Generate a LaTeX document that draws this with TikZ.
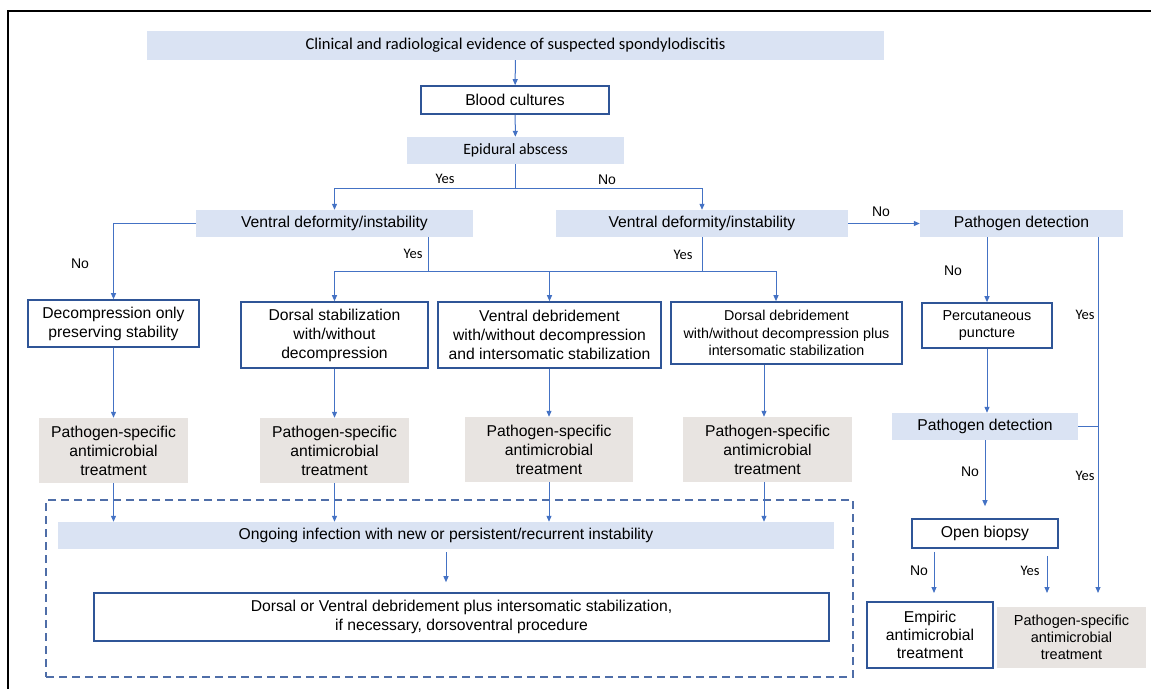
\documentclass[tikz,border=0pt]{standalone}
\usepackage{fontspec}
\setmainfont{Liberation Sans}
\newfontfamily\calfont{Carlito}
\usetikzlibrary{shapes.misc, positioning}
\usetikzlibrary{shapes.geometric, arrows, arrows.meta}
\definecolor{lightblue}{HTML}{DAE3F3}
\definecolor{lightgrey}{HTML}{E8E4E1}
\definecolor{darkblue}{HTML}{2F5597}
\definecolor{linkblue}{HTML}{4472C4}
\definecolor{dashblue}{HTML}{4F6EA8}
\tikzstyle{txt} = [font=\fontsize{15.7}{19}\selectfont]
\tikzstyle{question} = [rectangle, fill=lightblue, inner sep=0pt, text centered, align=center, txt]
\tikzstyle{process} = [rectangle, draw=darkblue, line width=1.6pt, fill=white, inner sep=0pt, text centered, align=center, txt]
\tikzstyle{therapy} = [rectangle, fill=lightgrey, inner sep=0pt, text centered, align=center, txt]
\tikzstyle{link} = [linkblue, line width=1pt]
\tikzstyle{arrow} = [link, -{Triangle[length=6pt,width=5pt]}]
\tikzstyle{no} = [inner sep=0pt, font=\fontsize{14}{16}\selectfont]
\tikzstyle{yes} = [inner sep=0pt, font=\calfont\fontsize{14.5}{16}\selectfont]

\begin{document}
\begin{tikzpicture}[x=1pt, y=-1pt]
    \useasboundingbox (0,0) rectangle (1151,689);
    \draw [line width=1.5pt] (1151,11)--(8,11)--(8,689);
    \node (surgery) [draw=dashblue, line width=1.2pt, dash pattern=on 8pt off 5pt, minimum width=807pt, minimum height=177pt, inner sep=0pt] at (449.5,588.5) {};

    \node (clinical) [question, minimum width=737pt, minimum height=29pt, font=\calfont\fontsize{16.5}{19}\selectfont] at (515.5,45.5) {Clinical and radiological evidence of suspected spondylodiscitis};
    \node (blood) [process, minimum width=188pt, minimum height=28pt] at (515,100) {Blood cultures};
    \node (epidural) [question, minimum width=217pt, minimum height=27pt, font=\calfont\fontsize{15.7}{19}\selectfont] at (515.5,150.5) {Epidural abscess};
    \node (vdL) [question, minimum width=277pt, minimum height=27pt] at (334.5,223.5) {Ventral deformity/instability};
    \node (vdR) [question, minimum width=292pt, minimum height=27pt] at (702,223.5) {Ventral deformity/instability};
    \node (pdTop) [question, minimum width=203pt, minimum height=27pt] at (1021.5,223.5) {Pathogen detection};
    \node (decomp) [process, minimum width=171pt, minimum height=47pt] at (113.5,323.5) {Decompression only\\preserving stability};
    \node (dstab) [process, minimum width=187pt, minimum height=66pt] at (334.5,335) {Dorsal stabilization\\with/without\\decompression};
    \node (vdeb) [process, minimum width=223pt, minimum height=66pt] at (549.5,335) {Ventral debridement\\with/without decompression\\and intersomatic stabilization};
    \node (ddeb) [process, minimum width=231pt, minimum height=62pt, font=\fontsize{14.3}{17.3}\selectfont] at (786.5,333) {Dorsal debridement\\with/without decompression plus\\intersomatic stabilization};
    \node (perc) [process, minimum width=130pt, minimum height=45pt, font=\fontsize{14.4}{17.3}\selectfont] at (987,325.5) {Percutaneous\\puncture};
    \node (ps1) [therapy, minimum width=149pt, minimum height=65pt] at (113.5,450.5) {Pathogen-specific\\antimicrobial\\treatment};
    \node (ps2) [therapy, minimum width=149pt, minimum height=65pt] at (334.5,450.5) {Pathogen-specific\\antimicrobial\\treatment};
    \node (ps3) [therapy, minimum width=168pt, minimum height=65pt] at (549,449.5) {Pathogen-specific\\antimicrobial\\treatment};
    \node (ps4) [therapy, minimum width=169pt, minimum height=65pt] at (767.5,449.5) {Pathogen-specific\\antimicrobial\\treatment};
    \node (pdMid) [question, minimum width=186pt, minimum height=27pt] at (985,426.5) {Pathogen detection};
    \node (ongoing) [question, minimum width=776pt, minimum height=27pt] at (446,535.5) {Ongoing infection with new or persistent/recurrent instability};
    \node (final) [process, minimum width=735pt, minimum height=48pt] at (461.5,617) {Dorsal or Ventral debridement plus intersomatic stabilization,\\if necessary, dorsoventral procedure};
    \node (biopsy) [process, minimum width=146pt, minimum height=29pt] at (985,533.5) {Open biopsy};
    \node (empiric) [process, minimum width=126pt, minimum height=66pt, font=\fontsize{15.7}{18.3}\selectfont] at (930,635) {Empiric\\antimicrobial\\treatment};
    \node (ps5) [therapy, minimum width=149pt, minimum height=61pt, font=\fontsize{14.5}{16.8}\selectfont] at (1071.5,637.5) {Pathogen-specific\\antimicrobial\\treatment};

    \coordinate (split) at (515.5,188);
    \coordinate (fork) at (428,271);
    \coordinate (forkR) at (776,271);
    \coordinate (yesEnd) at (1098,593);
    \coordinate (noEnd) at (934,593);
    \coordinate (yesEnd2) at (1047,593);

    \draw[arrow] (clinical)--(blood);
    \draw[arrow] (blood)--(epidural);
    \draw[link] (epidural)--(split);
    \draw[arrow] (split)-|(vdL.north);
    \draw[arrow] (split)-|(vdR.north);
    \draw[arrow] (vdL.west)-|(decomp.north);
    \draw[link] (fork |- vdL.south)--(fork);
    \draw[link] (vdR.south)--(vdR.south |- fork);
    \draw[arrow] (fork)-|(dstab.north);
    \draw[arrow] (fork)-|(vdeb.north);
    \draw[arrow] (fork)-|(forkR |- ddeb.north);
    \draw[arrow] (vdR.east)--(pdTop.west);
    \draw[arrow] (perc.north |- pdTop.south)--(perc.north);
    \draw[arrow] (yesEnd |- pdTop.south)--(yesEnd);
    \draw[link] (pdMid.east)--(pdMid.east -| yesEnd);
    \draw[arrow] (perc.south)--(perc.south |- pdMid.north);
    \draw[arrow, shorten >=12pt] (pdMid)--(biopsy);
    \draw[arrow, shorten <=3pt] (noEnd |- biopsy.south)--(noEnd);
    \draw[arrow, shorten <=7pt] (yesEnd2 |- biopsy.south)--(yesEnd2);
    \draw[arrow] (decomp)--(ps1);
    \draw[arrow] (dstab)--(ps2);
    \draw[arrow] (vdeb.south -| ps3)--(ps3);
    \draw[arrow] ([xshift=-3.5pt]ps4.north |- ddeb.south)--([xshift=-3.5pt]ps4.north);
    \draw[arrow] (ps1)--(ps1 |- ongoing.north);
    \draw[arrow] (ps2)--(ps2 |- ongoing.north);
    \draw[arrow] (ps3)--(ps3 |- ongoing.north);
    \draw[arrow] ([xshift=-3.5pt]ps4.south)--([xshift=-3.5pt]ps4.south |- ongoing.north);
    \draw[arrow, shorten <=3pt, shorten >=10pt] (ongoing.south)--(ongoing.south |- final.north);

    % labels
    \node (yes1) [yes] at (445,179) {Yes};
    \node (no1) [no] at (607,180) {No};
    \node (no2) [no] at (80,264) {No};
    \node (yes2) [yes] at (413,254) {Yes};
    \node (yes3) [yes] at (683,255) {Yes};
    \node (no3) [no] at (881,212) {No};
    \node (no4) [no] at (953,271) {No};
    \node (yes4) [yes] at (1085,315) {Yes};
    \node (yes5) [yes] at (1085,476) {Yes};
    \node (no5) [no] at (970,472) {No};
    \node (no6) [no] at (919,571) {No};
    \node (yes6) [yes] at (1030,571) {Yes};
\end{tikzpicture}
\end{document}
